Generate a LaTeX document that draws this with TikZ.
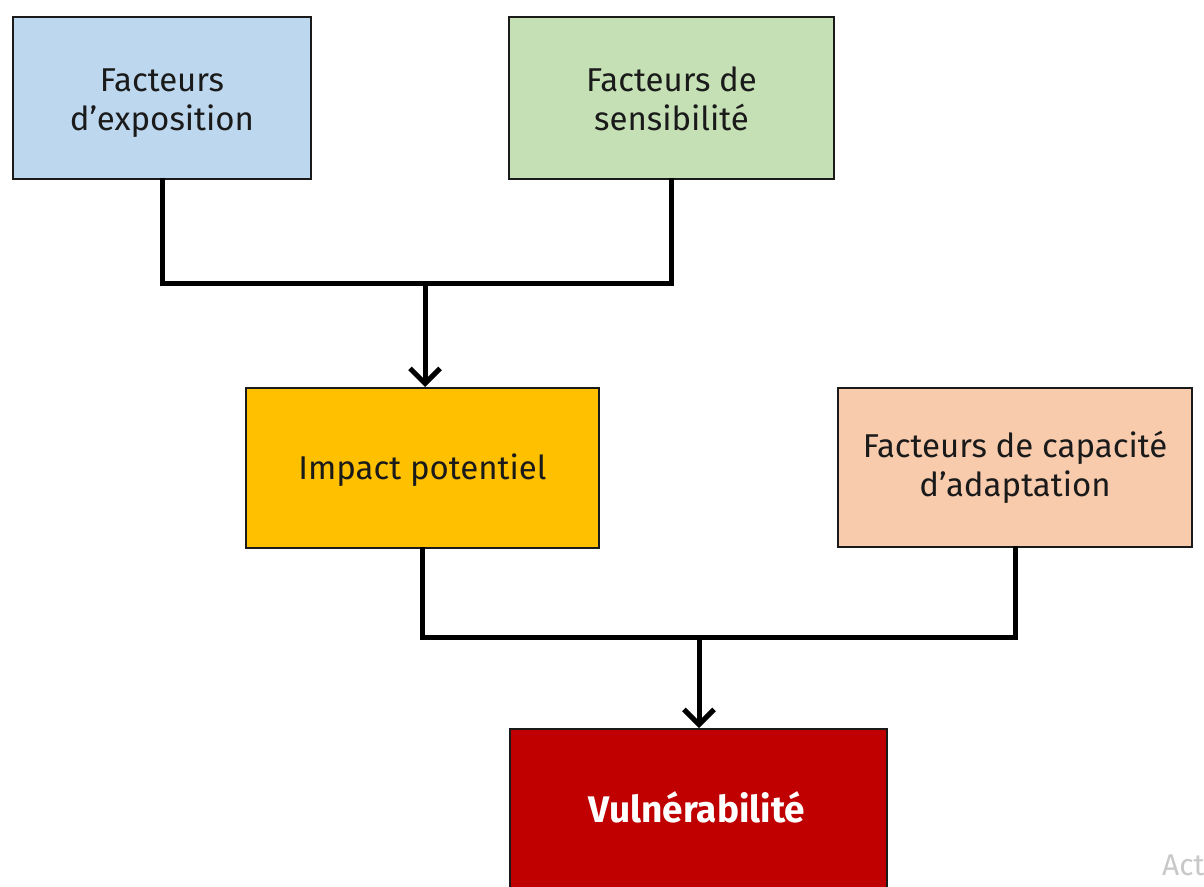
\documentclass[tikz,border=0pt]{standalone}
\usepackage{fontspec}
\setmainfont{Fira Sans}
\usetikzlibrary{arrows.meta}
\definecolor{cblue}{HTML}{BDD7EE}
\definecolor{cgreen}{HTML}{C5E0B4}
\definecolor{cyellow}{HTML}{FFC000}
\definecolor{cpeach}{HTML}{F8CBAD}
\definecolor{cred}{HTML}{C00000}
\definecolor{ctext}{HTML}{1A1A1A}
\tikzset{
  boxst/.style={draw=ctext, line width=2pt, inner sep=0pt},
  txt/.style={inner sep=0pt, text=ctext, font=\fontsize{33}{39}\selectfont, align=center},
  link/.style={line width=5pt, draw=black},
  arr/.style={link, -{Straight Barb[length=15pt,width=30pt]}},
}
\begin{document}
\begin{tikzpicture}[x=1pt,y=-1pt]
\useasboundingbox (0,0) rectangle (1204,886);
\begin{scope}
\clip (0,0) rectangle (1204,886);
\node[boxst, fill=cblue, minimum width=298pt, minimum height=162pt] (expo) at (162,98) {};
\node[boxst, fill=cgreen, minimum width=325pt, minimum height=162pt] (sens) at (671.5,98) {};
\node[boxst, fill=cyellow, minimum width=353pt, minimum height=160pt] (imp) at (422.5,468) {};
\node[boxst, fill=cpeach, minimum width=354pt, minimum height=159pt] (cap) at (1015,467.5) {};
\node[boxst, fill=cred, minimum width=377pt, minimum height=200pt] (vul) at (698.5,829) {};
\node[txt] (expoT) at (162,103) {Facteurs\strut\\d’exposition\strut};
\node[txt] (sensT) at (671.5,103) {Facteurs de\strut\\sensibilité\strut};
\node[txt] (impT) at (422.5,472) {Impact potentiel\strut};
\node[txt] (capT) at (1015,469) {Facteurs de capacité\strut\\d’adaptation\strut};
\node[inner sep=0pt, text=white, font=\fontsize{37}{39}\selectfont\bfseries] (vulT) at (697,813) {Vulnérabilité\strut};
\coordinate (j1) at (425,283);
\coordinate (j2) at (699,637);
\draw[link, line cap=rect] (expo.south) |- (j1) -| (sens.south);
\draw[arr] (j1) -- (imp.north -| j1);
\draw[link, line cap=rect] (imp.south) |- (j2) -| (cap.south);
\draw[arr] (j2) -- (vul.north -| j2);
\node[anchor=base west, text={rgb,255:red,200;green,200;blue,200}, font=\fontsize{30}{36}\selectfont, inner sep=0pt] (wm) at (1162,875) {Act};
\end{scope}
\end{tikzpicture}
\end{document}
